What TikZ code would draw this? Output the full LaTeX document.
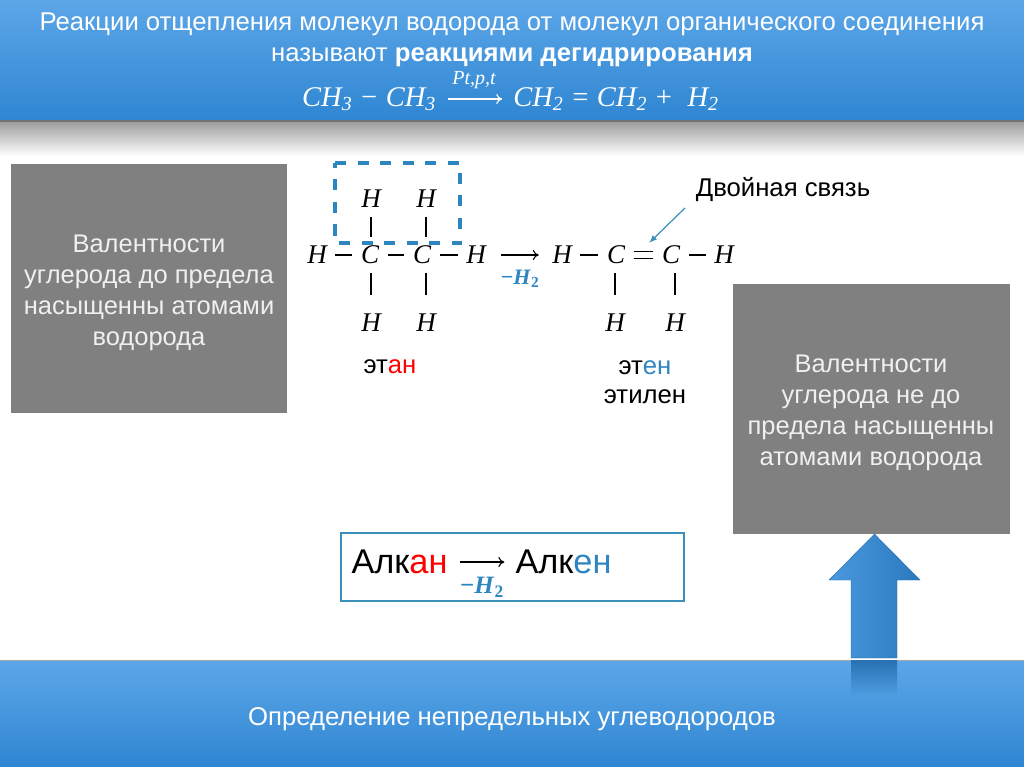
\documentclass[tikz,border=0pt]{standalone}
\usepackage{fontspec}
\usetikzlibrary{arrows.meta}
\setmainfont{Liberation Sans}
\newfontfamily\gasfont{Liberation Serif}
\definecolor{bandlight}{HTML}{5CA6E8}
\definecolor{banddark}{HTML}{2F86D2}
\definecolor{boxgray}{HTML}{808080}
\definecolor{boxtext}{HTML}{F0F0F0}
\definecolor{markblue}{HTML}{2E86C1}
\definecolor{linkteal}{HTML}{3A90B8}
\tikzset{
  band/.style={top color=bandlight, bottom color=banddark, draw=none},
  grayblock/.style={fill=boxgray, draw=none},
  bandtext/.style={text=white, align=center, inner sep=0pt, font=\fontsize{25.7}{31}\selectfont},
  formulatext/.style={text=white, inner sep=0pt, font=\gasfont\itshape\fontsize{28.5}{30}\selectfont},
  blocktext/.style={text=boxtext, align=center, inner sep=0pt, font=\fontsize{25.5}{31}\selectfont},
  atom/.style={inner sep=0pt, minimum width=36pt, minimum height=36pt, font=\gasfont\itshape\fontsize{27}{28}\selectfont},
  bond/.style={line width=1.3pt},
  react/.style={-{Computer Modern Rightarrow[length=6pt,width=10pt]}, line width=1.1pt},
  caption/.style={inner sep=0pt, align=center, font=\fontsize{25.7}{29}\selectfont},
  lost/.style={inner sep=0pt, text=markblue, font=\gasfont\bfseries\fontsize{22}{24}\selectfont},
  bigname/.style={inner sep=0pt, font=\fontsize{34.3}{38}\selectfont},
}
\newcommand{\gasloss}{−\textit{H}\textsubscript{2}}
\begin{document}
\begin{tikzpicture}[x=1pt,y=-1pt]
\useasboundingbox (0,0) rectangle (1024,767);
\fill[white] (0,0) rectangle (1024,767);

% Header
\path[band] (0,0) rectangle (1024,120);
\shade[top color=black!38, bottom color=white] (0,122) rectangle (1024,156);
\fill[black!55] (0,120) rectangle (1024,122);
\node[bandtext] (title) at (512,40) {Реакции отщепления молекул водорода от молекул органического соединения\\ называют \textbf{реакциями дегидрирования}};
\node[formulatext] (reactant) at (369,99) {CH\textsubscript{3} − CH\textsubscript{3}};
\node[formulatext] (product) at (616,99) {CH\textsubscript{2} = CH\textsubscript{2} + \ H\textsubscript{2}};
\node[formulatext, font=\gasfont\itshape\fontsize{20}{21}\selectfont] (conditions) at (474,80) {Pt,p,t};
\draw[react, white, shorten >=11pt, shorten <=12pt] (reactant) -- (product);

% Gray blocks
\path[grayblock] (11,164) rectangle (287,413);
\node[blocktext] (saturated) at (149,293) {Валентности\\ углерода до предела\\ насыщенны атомами\\ водорода};
\path[grayblock] (733,284) rectangle (1010,534);
\node[blocktext] (unsaturated) at (871,413) {Валентности\\ углерода не до\\ предела насыщенны\\ атомами водорода};

% Ethane
\node[atom] (hl) at (317,255) {H};
\node[atom] (ca) at (370,255) {C};
\node[atom] (cb) at (422,255) {C};
\node[atom] (hr) at (476,255) {H};
\node[atom] (hat) at (371,199) {H};
\node[atom] (hbt) at (426,199) {H};
\node[atom] (hab) at (371,323) {H};
\node[atom] (hbb) at (426,323) {H};
\foreach \from/\dest in {hl/ca,ca/cb,cb/hr}
  \draw[bond] (\from) -- (\dest);
\foreach \from/\dest in {hat/ca,hbt/cb}
  \draw[bond] (\from.south) -- (\from.south |- \dest.north);
\foreach \from/\dest in {hab/ca,hbb/cb}
  \draw[bond, shorten <=10pt] (\from.north) -- (\from.north |- \dest.south);

% Ethene
\node[atom] (hel) at (562,255) {H};
\node[atom] (cea) at (616,255) {C};
\node[atom] (ceb) at (671,255) {C};
\node[atom] (her) at (724,255) {H};
\node[atom] (heab) at (615,323) {H};
\node[atom] (hebb) at (675,323) {H};
\foreach \from/\dest in {hel/cea,ceb/her}
  \draw[bond] (\from) -- (\dest);
\foreach \from/\dest in {heab/cea,hebb/ceb}
  \draw[bond, shorten <=10pt] (\from.north) -- (\from.north |- \dest.south);
\draw[bond] ([yshift=3.3pt]cea.east) -- ([yshift=3.3pt]ceb.west);
\draw[bond] ([yshift=-3.3pt]cea.east) -- ([yshift=-3.3pt]ceb.west);

\draw[react, shorten >=5pt, shorten <=7pt] (hr) -- (hel);
\node[lost] (lostA) at (520,279) {\gasloss};
\draw[markblue, line width=3.2pt, dash pattern=on 11pt off 11.5pt] (335,163) -- (460,163) -- (460,243) -- (335,243) -- cycle;

\node[caption] (ethane) at (390,367) {эт\textcolor{red}{ан}};
\node[caption] (ethene) at (645,382) {эт\textcolor{markblue}{ен}\\ этилен};

\node[caption] (doublelabel) at (783,190) {Двойная связь};
\coordinate (doubletail) at (685,208);
\coordinate (doublehead) at (649,243);
\draw[-{Latex[length=8pt,width=6pt]}, linkteal, line width=1.2pt] (doubletail) -- (doublehead);

% Alkane to alkene
\draw[linkteal, line width=2pt, fill=white] (341,533) rectangle (684,601);
\node[bigname] (alkan) at (399.5,562) {Алк\textcolor{red}{ан}};
\node[bigname] (alken) at (563.5,562) {Алк\textcolor{markblue}{ен}};
\draw[react, shorten >=11pt, shorten <=12pt] (alkan) -- (alken);
\node[lost, font=\gasfont\bfseries\fontsize{25}{26}\selectfont] (lostB) at (482,587) {\gasloss};

% Footer
\path[band] (0,660) rectangle (1024,767);
\draw[black!35, line width=0.8pt] (0,660) -- (1024,660);
\node[bandtext] (definition) at (512,719) {Определение непредельных углеводородов};

% Block arrow with its reflection
\shade[top color=black!15!banddark, bottom color=bandlight!70!banddark] (851,660) rectangle (897,696);
\shade[left color=bandlight!60!banddark, right color=banddark!90!black, draw=black!20!banddark, line width=0.4pt]
  (874.5,534) -- (920,580) -- (897,580) -- (897,658) -- (851,658) -- (851,580) -- (829,580) -- cycle;
\end{tikzpicture}
\end{document}
